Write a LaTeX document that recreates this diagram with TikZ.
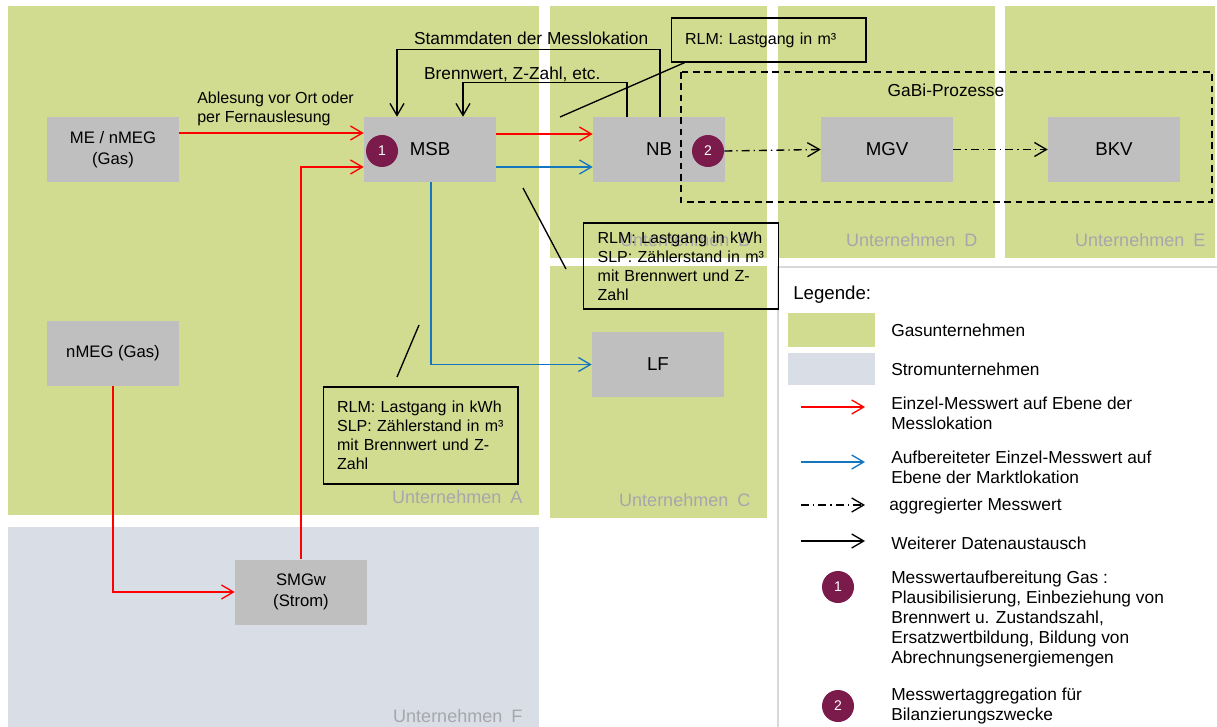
\documentclass[tikz,border=0pt]{standalone}
\usepackage{fontspec}
\setmainfont{Liberation Sans}
\usetikzlibrary{arrows.meta,positioning,calc}
\definecolor{gasgreen}{RGB}{210,220,144}
\definecolor{stromblue}{RGB}{217,222,230}
\definecolor{unitgray}{RGB}{191,191,191}
\definecolor{badgepurple}{RGB}{123,27,76}
\definecolor{mwred}{RGB}{255,0,0}
\definecolor{mwblue}{RGB}{21,117,191}
\definecolor{firmgray}{RGB}{166,166,172}
\definecolor{legendline}{RGB}{217,217,217}

\begin{document}
\begin{tikzpicture}[x=0.75pt,y=-0.75pt,
  >={Straight Barb[length=9pt,width=10.5pt]},
  unit/.style={fill=unitgray,minimum width=99pt,minimum height=48.75pt,
    inner sep=0pt,align=center,font=\fontsize{12.5}{15.5}\selectfont},
  bigunit/.style={unit,font=\fontsize{14}{17}\selectfont},
  badge/.style={circle,fill=badgepurple,minimum size=24pt,inner sep=0pt,
    text=white,font=\fontsize{10.5}{12}\selectfont},
  note/.style={draw,line width=1pt,text width=125pt,inner xsep=10.5pt,
    align=left,font=\fontsize{12}{14.25}\selectfont},
  lbl/.style={font=\fontsize{12}{14.25}\selectfont,inner sep=0pt,align=left},
  toplbl/.style={lbl,font=\fontsize{13}{15}\selectfont},
  firm/.style={anchor=east,text=firmgray,font=\fontsize{13.5}{16}\selectfont},
  legtxt/.style={anchor=west,inner sep=0pt,align=left,
    font=\fontsize{13}{15}\selectfont},
  flow/.style={->,line width=1pt},
  redarr/.style={flow,draw=mwred},
  bluearr/.style={flow,draw=mwblue},
  aggarr/.style={flow,draw=black,dash pattern=on 6pt off 3pt on 1pt off 3pt},
  blackarr/.style={flow,draw=black},
  pointer/.style={line width=1pt}
]
  \useasboundingbox (0,0) rectangle (1217,727);
  % companies
  \fill[gasgreen] (8,6) rectangle (539,515);
  \fill[gasgreen] (550,6) rectangle (767,258);
  \fill[gasgreen] (550,266) rectangle (767,518);
  \fill[gasgreen] (778,6) rectangle (995,258);
  \fill[gasgreen] (1005,6) rectangle (1215,258);
  \fill[stromblue] (8,527) rectangle (539,727);
  \node[firm] (firmA) at (527,497) {Unternehmen\enspace A};
  \node[firm] (firmB) at (755,240) {Unternehmen\enspace B};
  \node[firm] (firmC) at (755,500) {Unternehmen\enspace C};
  \node[firm] (firmD) at (982,240) {Unternehmen\enspace D};
  \node[firm] (firmE) at (1210,240) {Unternehmen\enspace E};
  \node[firm] (firmF) at (527,716) {Unternehmen\enspace F};
  % legend frame
  \draw[legendline,line width=1.2pt] (1217,267) -- (778,267) -- (778,727);

  % market roles
  \node[unit] (me) at (113,149.5) {ME / nMEG\\(Gas)};
  \node[bigunit] (msb) at (430,149.5) {MSB};
  \node[bigunit] (nb) at (659,149.5) {NB};
  \node[bigunit] (mgv) at (887,149.5) {MGV};
  \node[bigunit] (bkv) at (1114,149.5) {BKV};
  \node[bigunit] (lf) at (658,364.5) {LF};
  \node[unit] (nmeg) at (113,353.5) {nMEG (Gas)};
  \node[unit] (smgw) at (301,592) {SMGw\\(Strom)};
  \node[badge] (badge1) at (382,151) {1};
  \node[badge] (badge2) at (708,151) {2};

  % GaBi frame
  \draw[line width=1pt,dash pattern=on 5pt off 3.5pt] (681,72) rectangle (1212,202);
  \node[font=\fontsize{13}{15}\selectfont] (gabi) at (946,90) {GaBi-Prozesse};

  % notes
  \node[note,minimum height=33pt] (noteNB) at (768.5,40) {RLM: Lastgang in m³};
  \node[note,minimum height=64.5pt] (noteLF) at (681,266)
    {RLM: Lastgang in kWh\\SLP: Zählerstand in m³\\mit Brennwert und Z-\\Zahl};
  \node[note,minimum height=72.75pt] (noteMSB) at (420.5,435.5)
    {RLM: Lastgang in kWh\\SLP: Zählerstand in m³\\mit Brennwert und Z-\\Zahl};
  \coordinate (pNB) at (560,117);
  \coordinate (pLFa) at (523,188);
  \coordinate (pLFb) at (566,269);
  \coordinate (pMSBa) at (419,325);
  \coordinate (pMSBb) at (397,377);
  \draw[pointer] ($(noteNB.south west)+(14,0)$) -- (pNB);
  \draw[pointer] (pLFa) -- (pLFb);
  \draw[pointer] (pMSBa) -- (pMSBb);

  % data flows
  \node[lbl,anchor=south west] (ablesung) at (197,126)
    {Ablesung vor Ort oder\\per Fernauslesung};
  \draw[redarr] ($(me.east)+(0,-16.5)$) -- ($(msb.west)+(0,-16.5)$);
  \draw[redarr] (smgw.north) |- ($(msb.west)+(0,17.5)$);
  \draw[redarr] (nmeg.south) |- (smgw.west);
  \draw[redarr] ($(msb.east)+(0,-15.5)$) -- ($(nb.west)+(0,-15.5)$);
  \draw[bluearr] ($(msb.east)+(0,17.5)$) -- ($(nb.west)+(0,17.5)$);
  \draw[bluearr] ($(msb.south)+(1,0)$) |- (lf.west);
  \draw[blackarr] ($(nb.north)+(1,0)$)
    |- node[toplbl,above=3pt,pos=0.745] {Stammdaten der Messlokation}
    ($(msb.north)+(-33,-67)$) -- ($(msb.north)+(-33,0)$);
  \draw[blackarr] ($(nb.north)+(-32,0)$)
    |- node[toplbl,above=0.5pt,pos=0.85] {Brennwert, Z-Zahl, etc.}
    ($(msb.north)+(33,-34)$) -- ($(msb.north)+(33,0)$);
  \draw[aggarr] (badge2.east) -- (mgv.west);
  \draw[aggarr] (mgv.east) -- (bkv.west);

  % legend
  \node[legtxt,font=\fontsize{14}{16}\selectfont] (legtitle) at (793,295) {Legende:};
  \node[fill=gasgreen,minimum width=65.25pt,minimum height=25.5pt,inner sep=0pt]
    (swgas) at (831.5,330) {};
  \node[fill=stromblue,minimum width=65.25pt,minimum height=24pt,inner sep=0pt]
    (swstrom) at (831.5,369) {};
  \foreach \sty/\yy [count=\i] in {redarr/407,bluearr/462,aggarr/505,blackarr/541}{
    \coordinate (leg\i-a) at (801,\yy);
    \coordinate (leg\i-b) at (865,\yy);
    \draw[\sty] (leg\i-a) -- (leg\i-b);
  }
  \node[badge] (legbadge1) at (838,587) {1};
  \node[badge] (legbadge2) at (838,706) {2};
  \node[legtxt] (lgas) at (891,330) {Gasunternehmen};
  \node[legtxt] (lstrom) at (891,369) {Stromunternehmen};
  \node[legtxt] (lred) at (891,413) {Einzel-Messwert auf Ebene der\\Messlokation};
  \node[legtxt] (lblue) at (891,467.5) {Aufbereiteter Einzel-Messwert auf\\Ebene der Marktlokation};
  \node[legtxt] (lagg) at (889,506) {aggregierter Messwert};
  \node[legtxt] (lblack) at (891,543) {Weiterer Datenaustausch};
  \node[legtxt] (lone) at (891,619.5) {Messwertaufbereitung Gas :\\Plausibilisierung, Einbeziehung von\\Brennwert u. Zustandszahl,\\Ersatzwertbildung, Bildung von\\Abrechnungsenergiemengen};
  \node[legtxt] (ltwo) at (891,706) {Messwertaggregation für\\Bilanzierungszwecke};
\end{tikzpicture}
\end{document}
